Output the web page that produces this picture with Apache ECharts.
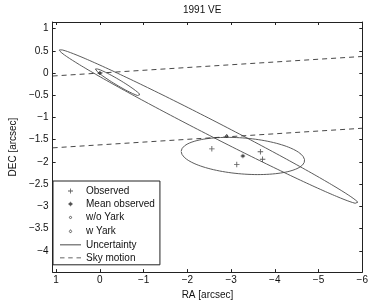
<!DOCTYPE html>
<html><head><meta charset="utf-8">
<script src="https://cdn.jsdelivr.net/npm/echarts@6/dist/echarts.min.js"></script>
<style>html,body{margin:0;padding:0;background:#fff}#c{width:371px;height:305px}</style>
</head><body><div id="c"></div>
<script>
const chartTitle = '1991 VE';
const raTicks = [1, 0, -1, -2, -3, -4, -5, -6];
const decTicks = [1, 0.5, 0, -0.5, -1, -1.5, -2, -2.5, -3, -3.5, -4];
const observed = [[-2.56, -1.705], [-3.67, -1.77], [-3.72, -1.94], [-3.13, -2.06]];
const meanObserved = [[-3.27, -1.866]];
const woYark = [[0, 0], [-2.90, -1.42]];
const wYark = [[0, 0], [-2.90, -1.42]];
// uncertainty ellipses: centre RA, centre DEC, semi-major, semi-minor, tilt (deg)
const ellRA = [-2.49, -0.415, -3.27];
const ellDEC = [-1.205, -0.21, -1.866];
const ellMajor = [3.83, 0.60, 1.415];
const ellMinor = [0.17, 0.065, 0.405];
const ellTilt = [26.8, 30.4, 4.5];
const skyMotion1 = [[1.08, -0.066], [-6, 0.374]];
const skyMotion2 = [[1.08, -1.683], [-6, -1.242]];

const FONT = 'Liberation Sans';
const INK = '#222';
const LINE = '#4a4a4a';

function ellipse(i) {
  const pts = [];
  const th = ellTilt[i] * Math.PI / 180;
  for (let k = 0; k <= 240; k++) {
    const t = k / 240 * 2 * Math.PI;
    const u = ellMajor[i] * Math.cos(t), v = ellMinor[i] * Math.sin(t);
    pts.push([ellRA[i] + u * Math.cos(th) - v * Math.sin(th), ellDEC[i] + u * Math.sin(th) + v * Math.cos(th)]);
  }
  return pts;
}
const fmt = v => (v < 0 ? '\u2212' + String(-v) : String(v));

const BOX = 'M0,0M20,20';
const plusPath = 'path://' + BOX + 'M9.2,5h1.6v10h-1.6zM5,9.2h10v1.6h-10z';
const starPath = 'path://' + BOX + 'M5.5,9.2h9v1.6h-9zM9.2,5.5h1.6v9h-1.6zM6.8,7.9L7.9,6.8L13.2,12.1L12.1,13.2zM12.1,6.8L13.2,7.9L7.9,13.2L6.8,12.1z';
const circPath = 'path://' + BOX + 'M12.2,10A2.2,2.2,0,1,1,7.8,10A2.2,2.2,0,1,1,12.2,10z';
const diaPath = 'path://' + BOX + 'M10,6.6L12.4,10L10,13.4L7.6,10z';
const solidIcon = 'path://M0,0M21,10M0,4.6h21v0.9h-21z';
const dashIcon = 'path://M0,0M21,10M0,4.6h4.5v0.9h-4.5zM8.2,4.6h4.5v0.9h-4.5zM16.5,4.6h4.5v0.9h-4.5z';

const axisLine = {show: true, onZero: false, lineStyle: {color: INK, width: 1}};
const xCommon = {type: 'value', inverse: true, min: -6, max: 1.08, splitLine: {show: false}, axisLine};
const yCommon = {type: 'value', min: -4.48, max: 1.15, splitLine: {show: false}, axisLine};

const series = [
  {name: 'Observed', type: 'scatter', data: observed, symbol: plusPath, symbolSize: 11,
   itemStyle: {color: '#333'}, z: 5},
  {name: 'Mean observed', type: 'scatter', data: meanObserved, symbol: starPath, symbolSize: 10,
   itemStyle: {color: '#222'}, z: 5},
  {name: 'w/o Yark', type: 'scatter', data: woYark, symbol: circPath, symbolSize: 10,
   itemStyle: {color: 'transparent', borderColor: '#333', borderWidth: 0.9}, z: 5},
  {name: 'w Yark', type: 'scatter', data: wYark, symbol: diaPath, symbolSize: 10,
   itemStyle: {color: 'transparent', borderColor: '#333', borderWidth: 0.9}, z: 5}
];
for (let i = 0; i < ellRA.length; i++) {
  series.push({name: 'Uncertainty', type: 'line', data: ellipse(i), symbol: 'none', showSymbol: false,
    lineStyle: {color: LINE, width: 0.9}, itemStyle: {color: LINE}, z: 3});
}
[skyMotion1, skyMotion2].forEach(d => series.push({name: 'Sky motion', type: 'line', data: d,
  symbol: 'none', showSymbol: false, lineStyle: {color: '#333', width: 0.9, type: [5, 4]},
  itemStyle: {color: '#333'}, z: 3}));

const chart = echarts.init(document.getElementById('c'), null, {renderer: 'canvas'});
chart.setOption({
  animation: false,
  backgroundColor: '#fff',
  title: {text: chartTitle, left: 183, top: 5, padding: 0,
    textStyle: {fontFamily: FONT, fontSize: 10, fontWeight: 'normal', color: '#111'}},
  grid: {left: 40, right: 7, top: 22, bottom: 27.3, containLabel: false},
  legend: {
    orient: 'vertical', left: 53, top: 181, itemWidth: 21, itemHeight: 10, itemGap: 3,
    padding: [5, 5, 2, 7], borderColor: INK, borderWidth: 1, backgroundColor: '#fff',
    textStyle: {fontFamily: FONT, fontSize: 10, color: '#111'},
    data: [
      {name: 'Observed', itemStyle: {borderWidth: 0}},
      {name: 'Mean observed', itemStyle: {borderWidth: 0}},
      {name: 'w/o Yark', itemStyle: {borderWidth: 0.9}},
      {name: 'w Yark', itemStyle: {borderWidth: 0.9}},
      {name: 'Uncertainty', icon: solidIcon, itemStyle: {color: '#333', borderWidth: 0}},
      {name: 'Sky motion', icon: dashIcon, itemStyle: {color: '#333', borderWidth: 0}}
    ]
  },
  xAxis: [
    Object.assign({}, xCommon, {position: 'bottom',
      axisTick: {show: true, inside: true, length: 3, customValues: raTicks, lineStyle: {color: INK}},
      axisLabel: {show: true, customValues: raTicks, formatter: fmt, margin: 3,
        fontFamily: FONT, fontSize: 10, color: '#111'},
      name: 'RA [arcsec]', nameLocation: 'middle', nameGap: 13,
      nameTextStyle: {fontFamily: FONT, fontSize: 10, color: '#111'}}),
    Object.assign({}, xCommon, {position: 'top',
      axisTick: {show: true, inside: true, length: 3, customValues: raTicks, lineStyle: {color: INK}},
      axisLabel: {show: false}})
  ],
  yAxis: [
    Object.assign({}, yCommon, {position: 'left',
      axisTick: {show: true, inside: true, length: 3, customValues: decTicks, lineStyle: {color: INK}},
      axisLabel: {show: true, customValues: decTicks, formatter: fmt, margin: 4,
        fontFamily: FONT, fontSize: 10, color: '#111'},
      name: 'DEC [arcsec]', nameLocation: 'middle', nameGap: 23, nameRotate: 90,
      nameTextStyle: {fontFamily: FONT, fontSize: 10, color: '#111'}}),
    Object.assign({}, yCommon, {position: 'right',
      axisTick: {show: true, inside: true, length: 3, customValues: decTicks, lineStyle: {color: INK}},
      axisLabel: {show: false}})
  ],
  series
});
</script></body></html>
